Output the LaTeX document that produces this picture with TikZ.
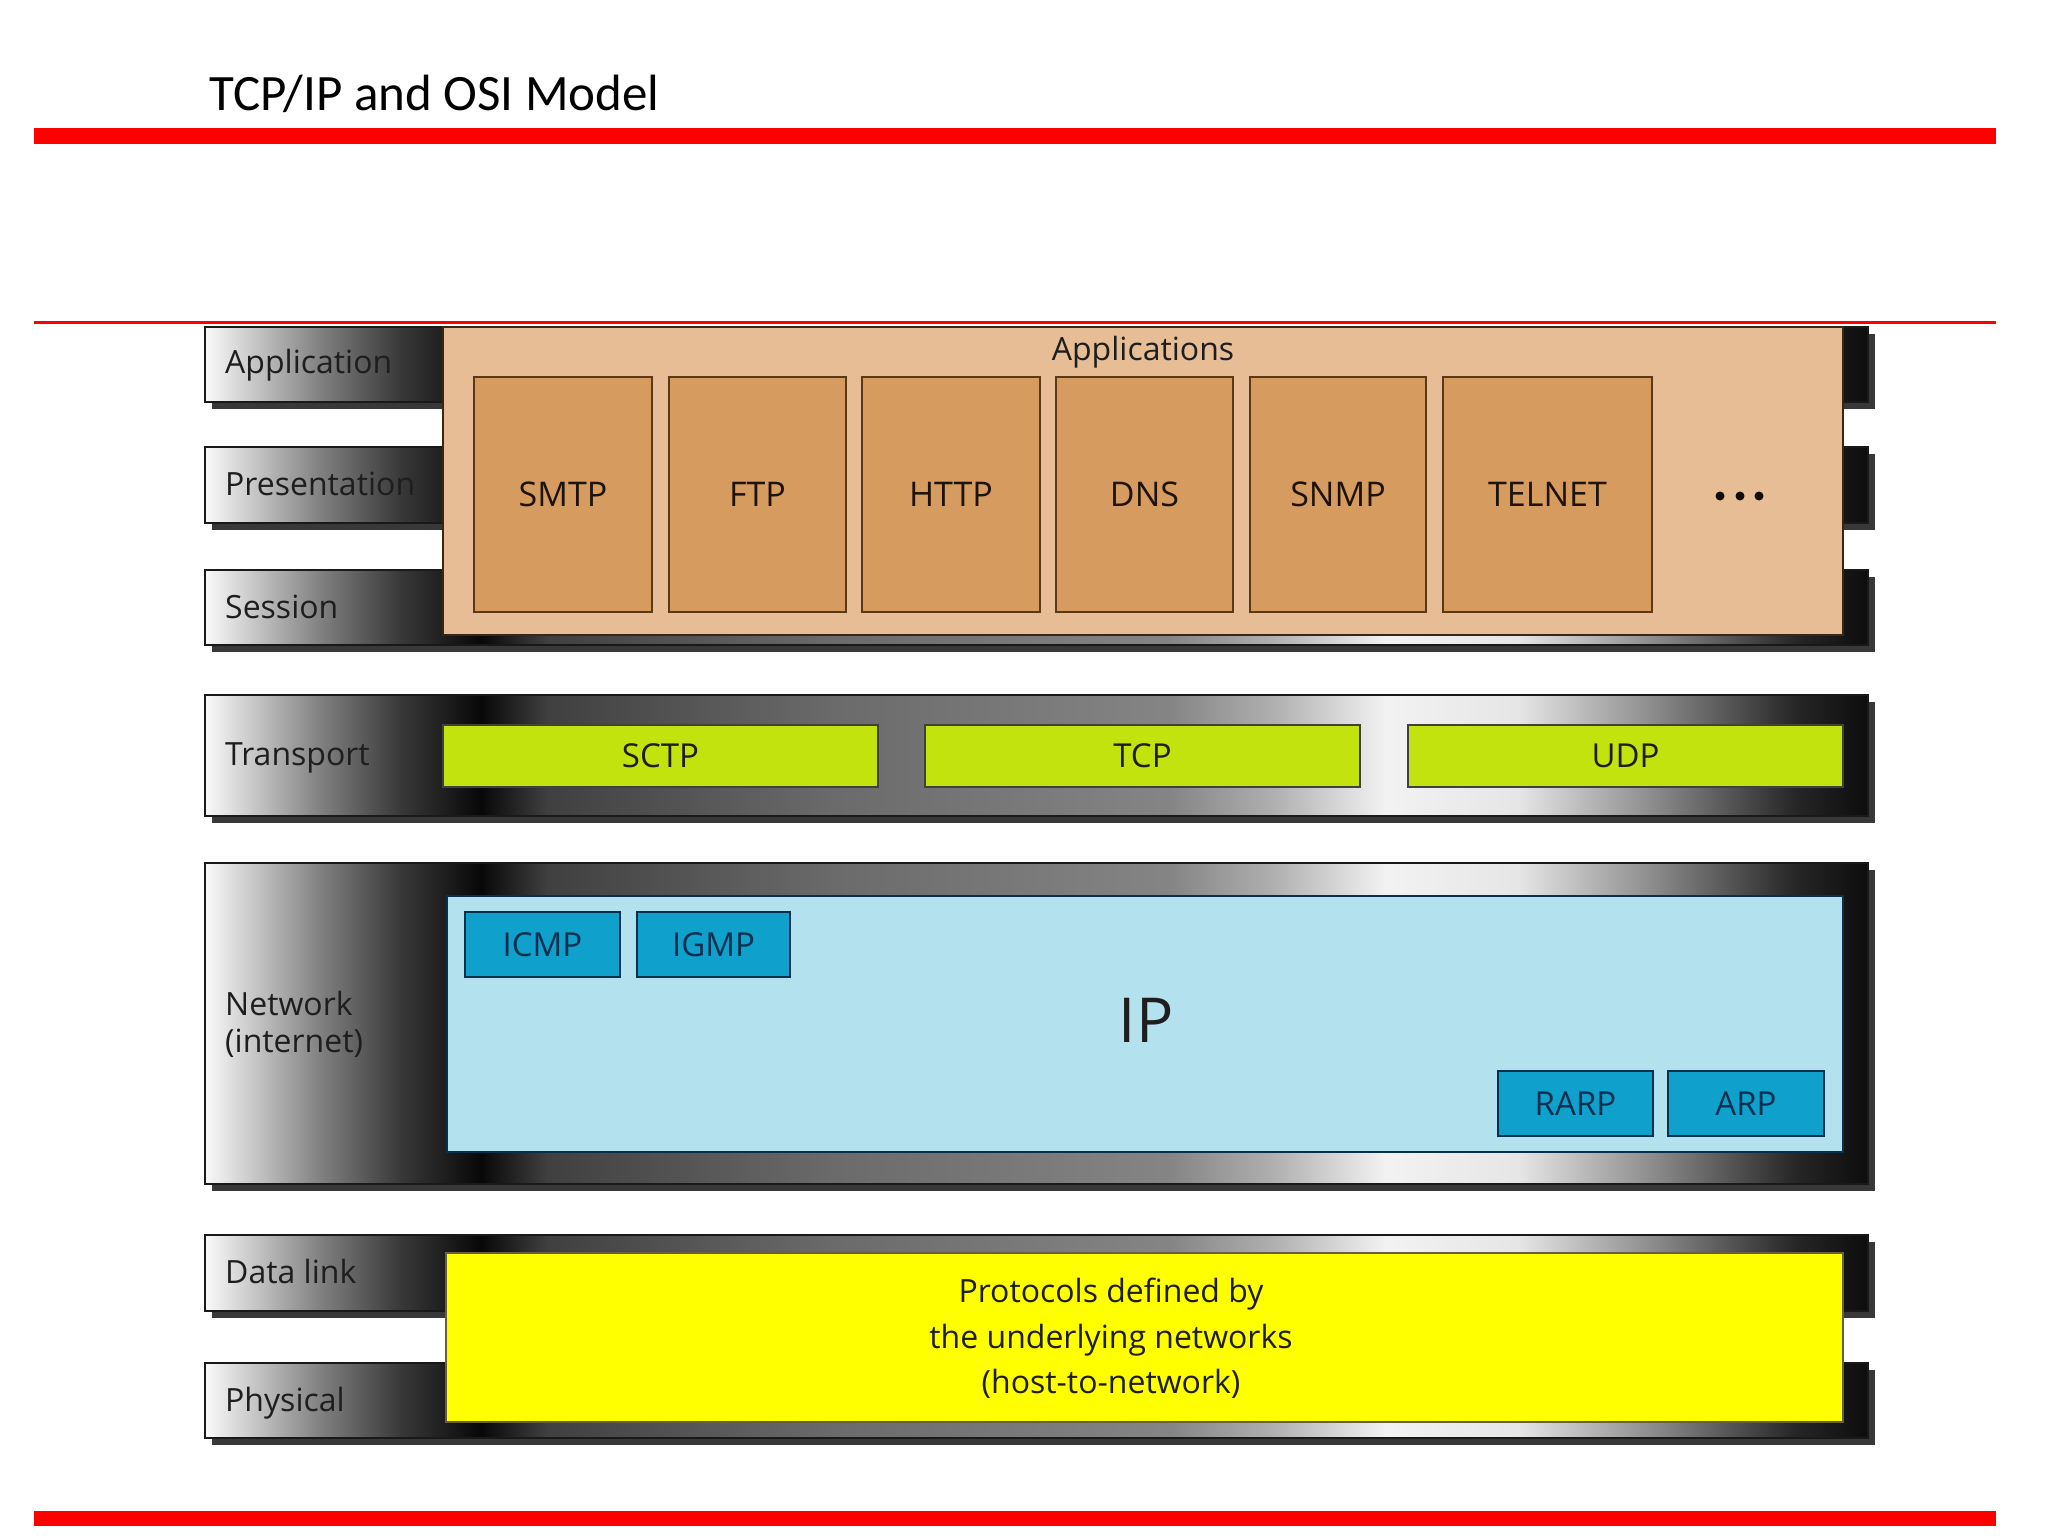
\documentclass[tikz,border=0pt]{standalone}
\usepackage{fontspec}
\setmainfont{Open Sans}
\newfontfamily\titlefont{Carlito}
\definecolor{peachc}{HTML}{E6BD95}
\definecolor{appc}{HTML}{D69B5E}
\definecolor{appborder}{HTML}{5A3818}
\definecolor{greenc}{HTML}{C3E30E}
\definecolor{lblue}{HTML}{B3E1EE}
\definecolor{bluebox}{HTML}{0FA0CB}
\definecolor{navyc}{HTML}{0B2F4F}
\definecolor{yel}{HTML}{FFFF00}
\definecolor{redc}{HTML}{FF0000}
\definecolor{txt}{HTML}{1E1E1E}
\pgfdeclarehorizontalshading{metal}{100bp}{color(0bp)=(black!2); color(25bp)=(black!2); color(28.5bp)=(black!50); color(30.9bp)=(black!78); color(33.3bp)=(black!97); color(35.3bp)=(black!75); color(44bp)=(black!58); color(54bp)=(black!48); color(57bp)=(black!32); color(60.5bp)=(black!5); color(64.5bp)=(black!10); color(68.5bp)=(black!45); color(72.8bp)=(black!85); color(75bp)=(black!95); color(100bp)=(black!95)}
\newcommand\fsz[1]{\fontsize{#1}{#1}\selectfont}
\newcommand\rbox[7][]{\node[#1,anchor=north west,inner sep=0pt,outer sep=0pt,minimum width={(#5)-(#3)},minimum height={(#6)-(#4)}] (#2) at (#3,#4) {#7};}
\tikzset{
  bar/.style={shade, shading=metal, draw=black!90, line width=1.5},
  barshadow/.style={fill=black!78},
  peachpanel/.style={fill=peachc, draw=black!70!brown, line width=2},
  appbox/.style={fill=appc, draw=appborder, line width=2.5, text=black!85!brown, font=\fsz{34}},
  greenbox/.style={fill=greenc, draw=black!75, line width=2, text=txt, font=\fsz{33}},
  bluepanel/.style={fill=lblue, draw=navyc, line width=2},
  bluebox/.style={fill=bluebox, draw=navyc, line width=2.5, text=navyc, font=\fsz{33}},
  yelpanel/.style={fill=yel, draw=black!70!yellow, line width=2},
  lbl/.style={anchor=base west, inner sep=0pt, text=txt, font=\fsz{32}},
  ctext/.style={anchor=base, inner sep=0pt, text=txt, font=\fsz{32}},
  redbar/.style={fill=redc},
}
\begin{document}
\begin{tikzpicture}[x=1pt,y=-1pt]
\useasboundingbox (0,0) rectangle (2048,1536);
\fill[white] (0,0) rectangle (2048,1536);
% title
\node[anchor=base west, inner sep=0pt, font=\titlefont\fsz{51}] (title) at (209,111) {TCP/IP and OSI Model};
\rbox[redbar]{topbar}{34}{128}{1996}{144}{}
\rbox[redbar]{botbar}{34}{1511}{1996}{1526}{}
% application / presentation / session bars
\rbox[barshadow]{appS}{212}{334}{1875}{409}{}
\rbox[barshadow]{presS}{212}{454}{1875}{530}{}
\rbox[barshadow]{sessS}{212}{577}{1875}{652}{}
\rbox[bar]{appbar}{205}{327}{1868}{402}{}
\rbox[bar]{presbar}{205}{447}{1868}{523}{}
\rbox[bar]{sessbar}{205}{570}{1868}{645}{}
\node[lbl] (lapp) at (225,373) {Application};
\node[lbl] (lpres) at (225,495) {Presentation};
\node[lbl] (lsess) at (225,618) {Session};
\rbox[peachpanel]{apps}{443}{327}{1843}{635}{}
\node[ctext] (appstitle) at (1143,360) {Applications};
\rbox[appbox]{smtp}{474}{377}{652}{612}{SMTP}
\rbox[appbox]{ftp}{669}{377}{846}{612}{FTP}
\rbox[appbox]{http}{862}{377}{1040}{612}{HTTP}
\rbox[appbox]{dns}{1056}{377}{1233}{612}{DNS}
\rbox[appbox]{snmp}{1250}{377}{1426}{612}{SNMP}
\rbox[appbox]{telnet}{1443}{377}{1652}{612}{TELNET}
\fill[black!90!brown] (1720,496) circle (4.5) (1740,496) circle (4.5) (1759,496) circle (4.5);
% transport
\rbox[barshadow]{transS}{212}{702}{1875}{823}{}
\rbox[bar]{transbar}{205}{695}{1868}{816}{}
\node[lbl] (ltrans) at (225,765) {Transport};
\rbox[greenbox]{sctp}{443}{725}{878}{787}{SCTP}
\rbox[greenbox]{tcp}{925}{725}{1360}{787}{TCP}
\rbox[greenbox]{udp}{1408}{725}{1843}{787}{UDP}
% network
\rbox[barshadow]{netS}{212}{870}{1875}{1191}{}
\rbox[bar]{netbar}{205}{863}{1868}{1184}{}
\node[lbl] (lnet) at (225,1015) {Network};
\node[lbl] (linet) at (225,1052) {(internet)};
\rbox[bluepanel]{ippanel}{447}{896}{1843}{1152}{}
\node[anchor=center, inner sep=0pt, text=txt, font=\fsz{62}] (ip) at (1146,1020) {IP};
\rbox[bluebox]{icmp}{465}{912}{620}{977}{ICMP}
\rbox[bluebox]{igmp}{637}{912}{790}{977}{IGMP}
\rbox[bluebox]{rarp}{1498}{1071}{1653}{1136}{RARP}
\rbox[bluebox]{arp}{1668}{1071}{1824}{1136}{ARP}
% data link / physical
\rbox[barshadow]{dlS}{212}{1242}{1875}{1318}{}
\rbox[barshadow]{phS}{212}{1370}{1875}{1445}{}
\rbox[bar]{dlbar}{205}{1235}{1868}{1311}{}
\rbox[bar]{phbar}{205}{1363}{1868}{1438}{}
\node[lbl] (ldl) at (225,1283) {Data link};
\node[lbl] (lph) at (225,1411) {Physical};
\rbox[yelpanel]{hostnet}{446}{1253}{1843}{1422}{}
\node[ctext] (y1) at (1111,1302) {Protocols defined by};
\node[ctext] (y2) at (1111,1348) {the underlying networks};
\node[ctext] (y3) at (1111,1393) {(host-to-network)};
% thin red rule on top
\rbox[redbar]{thinbar}{34}{321}{1996}{324}{}
\end{tikzpicture}
\end{document}
